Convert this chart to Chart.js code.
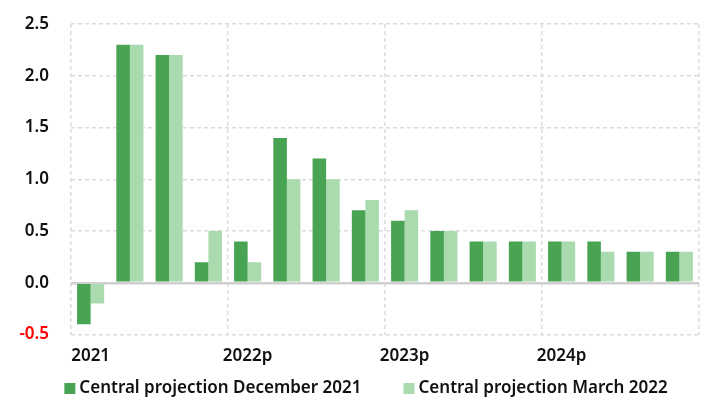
<!DOCTYPE html>
<html>
<head>
<meta charset="utf-8">
<script src="https://cdn.jsdelivr.net/npm/chart.js@4.4.1/dist/chart.umd.min.js"></script>
<style>
  html, body { margin: 0; padding: 0; background: #fff; }
  #wrap { width: 705px; height: 397px; position: relative; }
</style>
</head>
<body>
<div id="wrap"><canvas id="myChart"></canvas></div>
<script>
// quarters 2021 Q1 .. 2024 Q4
const quarters = [
	'2021 Q1', '2021 Q2', '2021 Q3', '2021 Q4',
	'2022 Q1', '2022 Q2', '2022 Q3', '2022 Q4',
	'2023 Q1', '2023 Q2', '2023 Q3', '2023 Q4',
	'2024 Q1', '2024 Q2', '2024 Q3', '2024 Q4'
];
const yearLabels = ['2021', '2022p', '2023p', '2024p'];
const december2021 = [-0.4, 2.3, 2.2, 0.2, 0.4, 1.4, 1.2, 0.7, 0.6, 0.5, 0.4, 0.4, 0.4, 0.4, 0.3, 0.3];
const march2022 = [-0.2, 2.3, 2.2, 0.5, 0.2, 1.0, 1.0, 0.8, 0.7, 0.5, 0.4, 0.4, 0.4, 0.3, 0.3, 0.3];
const seriesNames = ['Central projection December 2021', 'Central projection March 2022'];

const fontFamily = '"Noto Sans", "Open Sans", sans-serif';
const fontWeight = '600';
const textColor = '#111';
const darkGreen = '#48a352';
const lightGreen = '#a9dbaf';
const gridColor = '#dcdcdc';

// legend drawn by hand so the gaps can match the original
const bottomLegend = {
	id: 'bottomLegend',
	afterDraw(chart) {
		const ctx = chart.ctx;
		const box = 11;
		const gap = 4;
		const spacing = 42;
		ctx.save();
		ctx.font = fontWeight + ' 17px ' + fontFamily;
		ctx.textBaseline = 'middle';
		const items = chart.data.datasets.map(ds => ({
			text: ds.label,
			color: ds.backgroundColor,
			w: ctx.measureText(ds.label).width
		}));
		let total = 0;
		items.forEach((it, i) => {
			total += box + gap + it.w + (i > 0 ? spacing : 0);
		});
		let x = 366 - total / 2;
		const y = 388;
		items.forEach(it => {
			ctx.fillStyle = it.color;
			ctx.fillRect(x, y - 5, box, box);
			ctx.fillStyle = textColor;
			ctx.fillText(it.text, x + box + gap, y);
			x += box + gap + it.w + spacing;
		});
		ctx.restore();
	}
};

const config = {
	type: 'bar',
	data: {
		labels: quarters,
		datasets: [{
			label: seriesNames[0],
			data: december2021,
			backgroundColor: darkGreen,
			categoryPercentage: 0.69,
			barPercentage: 1.0
		}, {
			label: seriesNames[1],
			data: march2022,
			backgroundColor: lightGreen,
			categoryPercentage: 0.69,
			barPercentage: 1.0
		}]
	},
	options: {
		responsive: true,
		maintainAspectRatio: false,
		animation: false,
		layout: {
			padding: { top: 24, right: 6, left: 0, bottom: 20 }
		},
		plugins: {
			tooltip: { enabled: false },
			legend: { display: false }
		},
		scales: {
			x: {
				grid: {
					offset: true,
					drawTicks: false,
					lineWidth: 1.5,
					color: ctx => (ctx.index === undefined || ctx.index % 4 === 0 ? gridColor : 'transparent')
				},
				border: { display: false, dash: [4, 3] },
				ticks: {
					autoSkip: false,
					maxRotation: 0,
					padding: 11,
					color: textColor,
					font: { family: fontFamily, size: 17, weight: fontWeight },
					callback: (value, index) => (index % 4 === 0 ? yearLabels[index / 4] : '')
				}
			},
			y: {
				min: -0.5,
				max: 2.5,
				afterFit: scale => {
					scale.width = 71;
					scale.paddingTop = 10;
					scale.paddingBottom = 10;
				},
				grid: {
					drawTicks: false,
					lineWidth: ctx => (ctx.tick && ctx.tick.value === 0 ? 2.5 : 1.5),
					color: ctx => (ctx.tick && ctx.tick.value === 0 ? '#cfcfcf' : gridColor)
				},
				border: {
					display: false,
					dash: ctx => (ctx.tick && ctx.tick.value === 0 ? [] : [4, 3])
				},
				ticks: {
					stepSize: 0.5,
					padding: 22,
					color: ctx => (ctx.tick.value < 0 ? '#ff0000' : textColor),
					font: { family: fontFamily, size: 17, weight: fontWeight },
					callback: value => value.toFixed(1)
				}
			}
		}
	},
	plugins: [bottomLegend]
};

const myChart = new Chart(document.getElementById('myChart'), config);
</script>
</body>
</html>
